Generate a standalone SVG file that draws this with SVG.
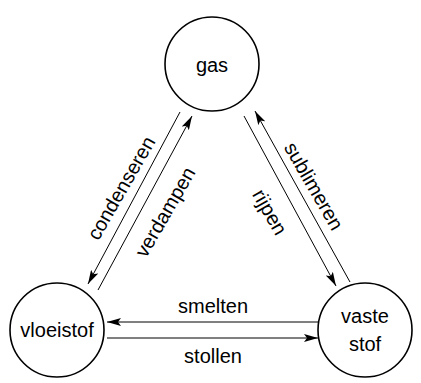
<svg xmlns="http://www.w3.org/2000/svg" width="421" height="383" viewBox="0 0 421 383">
<style>
.node{fill:#fff;stroke:#000;stroke-width:1.6}
.lbl{font-family:"Liberation Sans",Arial,sans-serif;font-size:20px;fill:#000;text-anchor:middle}
.edge{stroke:#000;stroke-width:1;fill:none;marker-end:url(#ah)}
</style>
<defs>
<marker id="ah" viewBox="0 0 14 8" refX="14" refY="4" markerWidth="14" markerHeight="8" markerUnits="userSpaceOnUse" orient="auto">
<path d="M0,0 L14,4 L0,8 L3,4 Z" fill="#000"/>
</marker>
</defs>
<rect width="421" height="383" fill="#fff"/>
<g id="connectors">
<line class="edge" x1="180" y1="112" x2="88" y2="284"/>
<line class="edge" x1="98" y1="290" x2="192" y2="116"/>
<line class="edge" x1="244" y1="116" x2="336" y2="286"/>
<line class="edge" x1="350" y1="282" x2="255" y2="111"/>
<line class="edge" x1="318" y1="322" x2="107" y2="322"/>
<line class="edge" x1="107" y1="338" x2="318" y2="338"/>
<text class="lbl" transform="translate(121,188) rotate(-60)" y="7">condenseren</text>
<text class="lbl" transform="translate(165,212) rotate(-60)" y="7">verdampen</text>
<text class="lbl" transform="translate(314,186) rotate(60)" y="7">sublimeren</text>
<text class="lbl" transform="translate(270,212) rotate(60)" y="7">rijpen</text>
<text class="lbl" x="213" y="313">smelten</text>
<text class="lbl" x="213" y="363">stollen</text>
</g>
<g id="gas">
<circle class="node" cx="212" cy="64" r="47"/>
<text class="lbl" x="212" y="72">gas</text>
</g>
<g id="vloeistof">
<circle class="node" cx="57" cy="330" r="47"/>
<text class="lbl" x="57" y="337">vloeistof</text>
</g>
<g id="vaste_stof">
<circle class="node" cx="365" cy="330" r="47"/>
<text class="lbl" x="365" y="323">vaste</text>
<text class="lbl" x="365" y="351">stof</text>
</g>
</svg>
